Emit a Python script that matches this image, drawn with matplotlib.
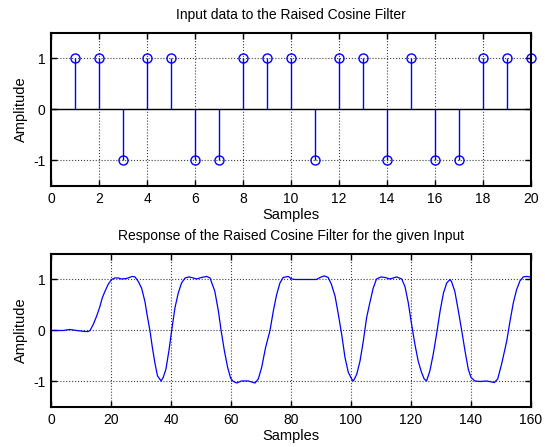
import numpy as np
import matplotlib
matplotlib.use("Agg")
import matplotlib.pyplot as plt

plt.rcParams['font.family'] = ['Liberation Sans', 'DejaVu Sans']
plt.rcParams['font.size'] = 10
plt.rcParams['axes.unicode_minus'] = False

# input bits (stem plot)
bit_n = list(range(1, 21))
bits = [1, 1, -1, 1, 1, -1, -1, 1, 1, 1, -1, 1, 1, -1, 1, -1, -1, 1, 1, 1]

# filter response
resp_x = [1, 4, 6.3, 8.5, 11.3, 12.4, 13, 14.1, 15.2, 16.3, 17.1, 18, 19.1, 20.2,
          21.3, 22.4, 23.5, 25.2, 27.1, 28, 29.1, 30.2, 31.3, 32.2, 33, 33.8, 34.7,
          35.5, 36.7, 37.4, 38.3, 39.3, 40.2, 41.3, 42.4, 43.5, 44.7, 46, 47.4, 48.5,
          50.2, 51.9, 53, 54.6, 55.8, 56.7, 57.8, 58.9, 59.9, 60.8, 61.9, 63.5, 65.8,
          68, 69.1, 70.2, 71.5, 73, 74.1, 75.2, 76.3, 77.4, 79.1, 80.2, 81.3, 88.5,
          89.7, 91.1, 92.4, 93.5, 94.7, 95.8, 96.9, 98, 99.1, 100.2, 100.8, 101.9,
          103, 104.1, 105.2, 106.3, 107.4, 108.5, 110, 111.3, 113, 115.2, 116.9, 118,
          119.1, 120.2, 121.3, 122.4, 123.5, 124.4, 125.2, 126.3, 127.4, 128.5, 129.7,
          130.8, 131.9, 133, 133.5, 134.6, 135.8, 136.9, 138, 139.1, 140, 141.3, 143,
          145.2, 147.8, 148.9, 150.2, 151.9, 153, 154.1, 155.2, 156.3, 157.4, 158.5,
          159.7, 160]
resp_y = [0, 0, 0.02, 0, -0.02, -0.02, 0, 0.12, 0.28, 0.47, 0.64, 0.77, 0.91, 1.0,
          1.03, 1.03, 1.01, 1.02, 1.06, 1.05, 0.96, 0.83, 0.57, 0.25, -0.01, -0.34, -0.66,
          -0.89, -0.99, -0.92, -0.76, -0.40, -0.01, 0.44, 0.73, 0.93, 1.03, 1.05, 1.03, 1.01,
          1.04, 1.06, 1.03, 0.77, 0.38, 0, -0.40, -0.73, -0.94, -1.0, -1.03, -0.99, -0.99,
          -1.03, -0.95, -0.73, -0.34, 0, 0.38, 0.70, 0.93, 1.04, 1.06, 1.01, 1.0, 1.0,
          1.04, 1.07, 1.04, 0.90, 0.67, 0.31, -0.08, -0.53, -0.82, -0.95, -0.99, -0.86,
          -0.60, -0.21, 0.25, 0.55, 0.83, 1.01, 1.05, 1.04, 1.01, 1.05, 1.01, 0.86,
          0.54, 0.12, -0.27, -0.60, -0.82, -0.95, -0.99, -0.79, -0.47, -0.08, 0.38,
          0.73, 0.93, 1.0, 0.96, 0.77, 0.38, 0, -0.40, -0.76, -0.92, -0.99, -1.0,
          -0.99, -1.02, -0.95, -0.66, -0.21, 0.18, 0.54, 0.80, 0.97, 1.05, 1.06,
          1.05, 1.04]

fig = plt.figure(figsize=(5.45, 4.47), dpi=100)
ax1 = fig.add_axes([0.0936, 0.5839, 0.8807, 0.3423])
ax2 = fig.add_axes([0.0936, 0.0895, 0.8807, 0.3423])


def style(ax):
    ax.grid(True, color='0.25', linestyle=':', linewidth=0.8)
    ax.set_axisbelow(True)
    ax.tick_params(direction='in', top=True, right=True, length=4, width=1,
                   labelsize=10, pad=4)
    for s in ax.spines.values():
        s.set_linewidth(1.5)
    ax.set_ylim(-1.5, 1.5)
    ax.set_yticks([-1, 0, 1])
    ax.set_ylabel('Amplitude', fontsize=10.5, labelpad=4)
    ax.set_xlabel('Samples', fontsize=10.5, labelpad=2)


# top: stem plot
ax1.axhline(0, color='k', linewidth=1)
ml, sl, bl = ax1.stem(bit_n, bits, linefmt='b-', markerfmt='o', basefmt=' ')
ml.set_markerfacecolor('none')
ml.set_markeredgecolor('b')
ml.set_markersize(6.5)
ml.set_markeredgewidth(1)
sl.set_linewidth(1)
ml.set_clip_on(False)
ax1.set_xlim(0, 20)
ax1.set_xticks(range(0, 21, 2))
style(ax1)
ax1.set_title('Input data to the Raised Cosine Filter', fontsize=10, pad=10)

# bottom: filter output
ax2.plot(resp_x, resp_y, color='b', linewidth=0.9)
ax2.set_xlim(0, 160)
ax2.set_xticks(range(0, 161, 20))
style(ax2)
ax2.set_title('Response of the Raised Cosine Filter for the given Input', fontsize=10, pad=10)

fig.savefig('out.png', dpi=100)
